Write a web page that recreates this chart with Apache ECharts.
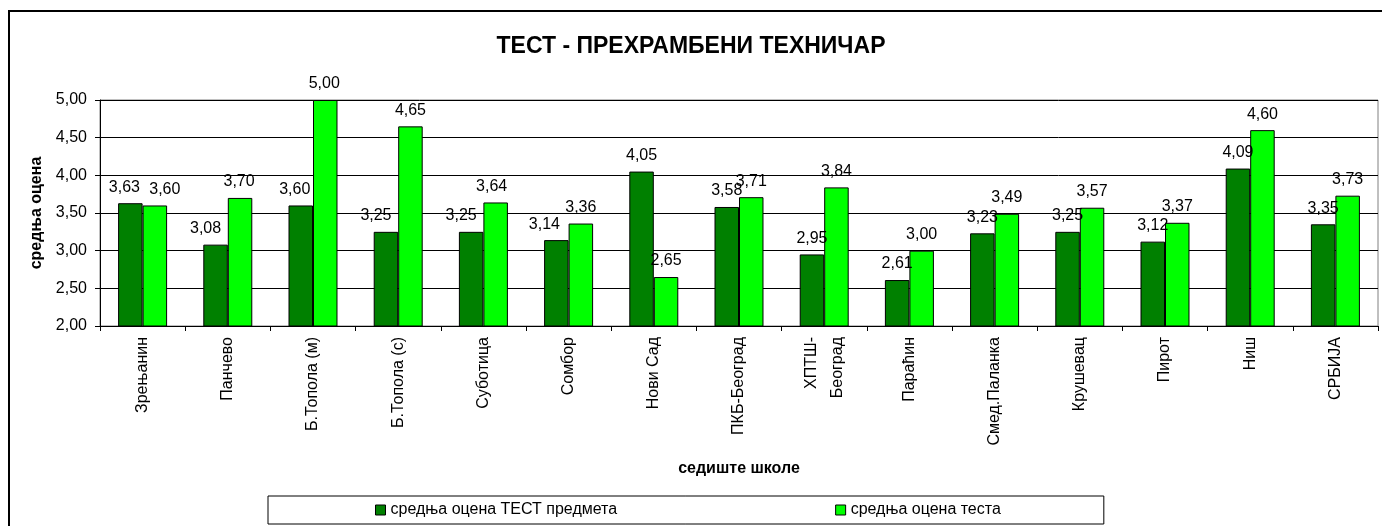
<!DOCTYPE html>
<html>
<head>
<meta charset="utf-8">
<script src="https://cdn.jsdelivr.net/npm/echarts@6/dist/echarts.min.js"></script>
<style>
  html, body { margin: 0; padding: 0; background: #fff; }
  #chart { width: 1382px; height: 526px; }
</style>
</head>
<body>
<div id="chart"></div>
<script>
// категорије и вредности
const schools = ['Зрењанин', 'Панчево', 'Б.Топола (м)', 'Б.Топола (с)', 'Суботица', 'Сомбор', 'Нови Сад',
  'ПКБ-Београд', 'ХПТШ-\nБеоград', 'Параћин', 'Смед.Паланка', 'Крушевац', 'Пирот', 'Ниш', 'СРБИЈА']
const subjectAvg = [3.63, 3.08, 3.60, 3.25, 3.25, 3.14, 4.05, 3.58, 2.95, 2.61, 3.23, 3.25, 3.12, 4.09, 3.35]
const testAvg = [3.60, 3.70, 5.00, 4.65, 3.64, 3.36, 2.65, 3.71, 3.84, 3.00, 3.49, 3.57, 3.37, 4.60, 3.73]
const seriesNames = ['средња оцена ТЕСТ предмета', 'средња оцена теста']

const font = 'Liberation Sans, Arial, sans-serif'
const fmt = v => v.toFixed(2).replace('.', ',')

// labels that were nudged by hand in the original so they don't run into the neighbour bar
const subjectLabelShift = [-6, -10, -6, -10, -10, -12]
const testLabelShift = [10, -1, -1, 0, -4, 0]

const chart = echarts.init(document.getElementById('chart'))

function barSeries(name, values, color, shifts) {
  return {
    name,
    type: 'bar',
    data: values.map((v, i) => shifts[i] ? { value: v, label: { offset: [shifts[i], 0] } } : v),
    barGap: '0%',
    barCategoryGap: '42.5%',
    itemStyle: { color, borderColor: '#000', borderWidth: 1 },
    label: {
      show: true,
      position: 'top',
      distance: 8,
      color: '#000',
      fontFamily: font,
      fontSize: 16,
      formatter: p => fmt(p.value)
    }
  }
}

chart.setOption({
  animation: false,
  textStyle: { fontFamily: font },
  title: {
    text: 'ТЕСТ - ПРЕХРАМБЕНИ ТЕХНИЧАР',
    left: 'center',
    top: 30,
    textStyle: { fontFamily: font, fontSize: 23, fontWeight: 'bold', color: '#000' }
  },
  graphic: [{
    type: 'rect',
    shape: { x: 9, y: 11, width: 1380, height: 530 },
    style: { fill: 'none', stroke: '#000', lineWidth: 2 },
    silent: true
  }],
  legend: {
    data: seriesNames,
    left: 268,
    top: 496,
    padding: [6, 103, 6, 107],
    itemGap: 218,
    itemWidth: 10,
    itemHeight: 10,
    icon: 'rect',
    borderColor: '#000',
    borderWidth: 1,
    itemStyle: { borderColor: '#000', borderWidth: 1 },
    textStyle: { fontFamily: font, fontSize: 16, color: '#000' }
  },
  grid: {
    left: 100,
    right: 4,
    top: 100,
    bottom: 200,
    show: true,
    borderColor: '#808080',
    borderWidth: 1
  },
  xAxis: {
    type: 'category',
    data: schools,
    name: 'седиште школе',
    nameLocation: 'middle',
    nameGap: 135,
    nameTextStyle: { fontFamily: font, fontSize: 16, fontWeight: 'bold', color: '#000' },
    axisLine: { lineStyle: { color: '#000', width: 1 } },
    axisTick: { show: true, length: 5, lineStyle: { color: '#000' } },
    axisLabel: {
      rotate: 90,
      interval: 0,
      margin: 11,
      fontFamily: font,
      fontSize: 16,
      color: '#000',
      lineHeight: 26
    }
  },
  yAxis: {
    type: 'value',
    min: 2,
    max: 5,
    interval: 0.5,
    name: 'средња оцена',
    nameLocation: 'middle',
    nameGap: 52,
    nameTextStyle: { fontFamily: font, fontSize: 16, fontWeight: 'bold', color: '#000' },
    axisLine: { show: true, lineStyle: { color: '#000', width: 1 } },
    axisTick: { show: true, length: 5, lineStyle: { color: '#000' } },
    splitLine: { lineStyle: { color: '#000', width: 1 } },
    axisLabel: {
      margin: 13,
      fontFamily: font,
      fontSize: 16,
      color: '#000',
      formatter: v => fmt(v)
    }
  },
  series: [
    barSeries(seriesNames[0], subjectAvg, '#008000', subjectLabelShift),
    barSeries(seriesNames[1], testAvg, '#00ff00', testLabelShift)
  ]
})
</script>
</body>
</html>
